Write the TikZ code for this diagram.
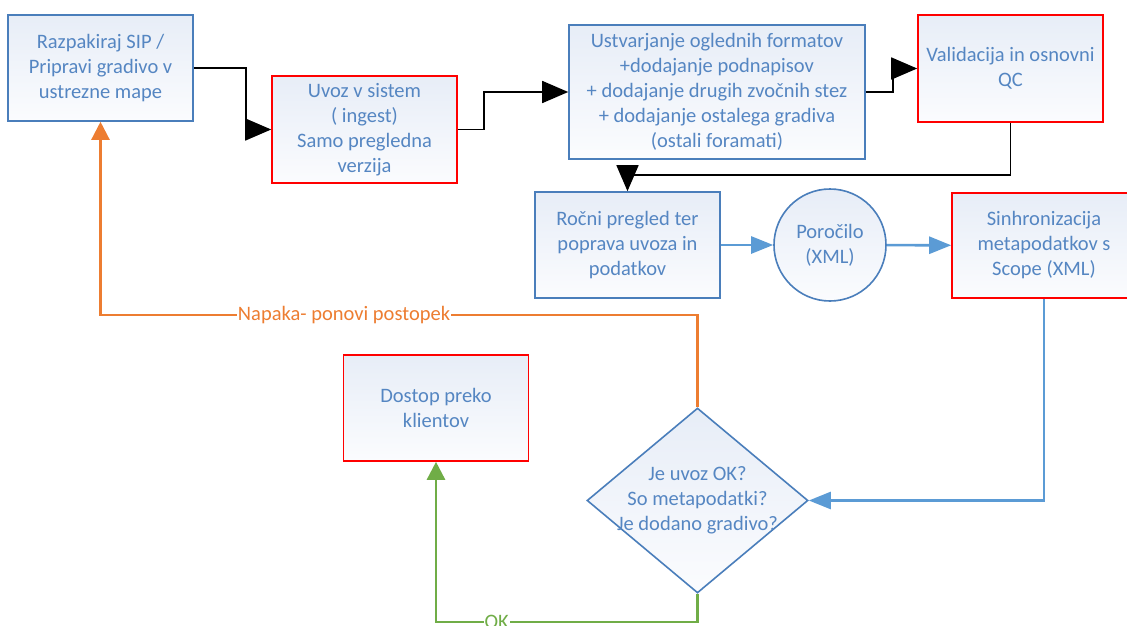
\documentclass[tikz,border=0pt]{standalone}
\usepackage{fontspec}
\setmainfont{Carlito}
\usepackage{tikz}
\usetikzlibrary{arrows.meta,shapes.geometric}
\definecolor{boxline}{HTML}{4A7EBB}
\definecolor{boxtext}{HTML}{5586C2}
\definecolor{filltop}{HTML}{E7EDF7}
\definecolor{fillbot}{HTML}{FBFCFE}
\definecolor{flowblue}{HTML}{5B9BD5}
\definecolor{flowred}{HTML}{FF0000}
\definecolor{floworange}{HTML}{ED7D31}
\definecolor{flowgreen}{HTML}{70AD47}
\tikzset{
  fbox/.style={draw=boxline,line width=1.6pt,top color=filltop,bottom color=fillbot,text=boxtext,align=center,inner sep=2pt,minimum width=185pt,minimum height=106pt},
  fred/.style={fbox,draw=flowred},
  fcirc/.style={fbox,circle,minimum size=112pt,minimum width=112pt,minimum height=112pt},
  fdec/.style={fbox,diamond,minimum width=221pt,minimum height=185pt,inner sep=0pt},
  ftxt/.style={text=boxtext,align=center,inner sep=0pt},
  karr/.style={-{Triangle[length=26pt,width=22pt]},line width=1.6pt,draw=black},
  barr/.style={-{Triangle[length=22pt,width=17pt]},line width=2.6pt,draw=flowblue},
  oarr/.style={-{Triangle[length=18pt,width=18pt]},line width=2.4pt,draw=floworange},
  garr/.style={-{Triangle[length=18pt,width=18pt]},line width=2.6pt,draw=flowgreen},
  lbl/.style={fill=white,inner sep=1pt}
}
\begin{document}
\begin{tikzpicture}[x=1pt,y=-1pt,font=\fontsize{20.5}{25}\selectfont]
  \clip (0,0) rectangle (1127,626);
  \fill[white] (0,0) rectangle (1127,626);
  % top row
  \node[fbox] (razp) at (100.5,68) {Razpakiraj SIP /\\Pripravi gradivo v\\ustrezne mape};
  \node[fred,minimum height=107pt] (uvoz) at (364.5,129.5) {Uvoz v sistem\\( ingest)\\Samo pregledna\\verzija};
  \node[fbox,minimum width=296pt,minimum height=134pt] (ustv) at (717,92) {Ustvarjanje oglednih formatov\\+dodajanje podnapisov\\+ dodajanje drugih zvočnih stez\\+ dodajanje ostalega gradiva\\(ostali foramati)};
  \node[fred,minimum height=107pt] (valid) at (1010.5,68.5) {Validacija in osnovni\\QC};
  % middle row
  \node[fbox] (rocni) at (627.5,245) {Ročni pregled ter\\poprava uvoza in\\podatkov};
  \node[fcirc] (poro) at (830,245) {Poročilo\\(XML)};
  \node[fred,minimum width=184pt,minimum height=105pt] (sinh) at (1044,245.5) {Sinhronizacija\\metapodatkov s\\Scope (XML)};
  % bottom
  \node[fred] (dost) at (436,408) {Dostop preko\\klientov};
  \node[fdec] (odl) at (697.5,500.5) {};
  \node[ftxt] (odltxt) at (odl.center) {Je uvoz OK?\\So metapodatki?\\Je dodano gradivo?};
  % connectors
  \draw[karr] (razp.east) -- ++(52,0) |- (uvoz.west);
  \draw[karr] (uvoz.east) -- ++(26,0) |- (ustv.west);
  \draw[karr] (ustv.east) -- ++(27,0) |- (valid.west);
  \draw[karr] (valid.south) -- ++(0,52) -| (rocni.north);
  \draw[barr] (rocni) -- (poro);
  \draw[barr] (poro) -- (sinh);
  \draw[barr] (sinh.south) |- (odl.east);
  \draw[oarr] (odl.north) -- ++(0,-92) -| node[lbl,pos=0.296,text=floworange] {Napaka- ponovi postopek} (razp.south);
  \draw[garr] (odl.south) -- ++(0,28) -| node[lbl,pos=0.384,text=flowgreen] {OK} (dost.south);
\end{tikzpicture}
\end{document}
